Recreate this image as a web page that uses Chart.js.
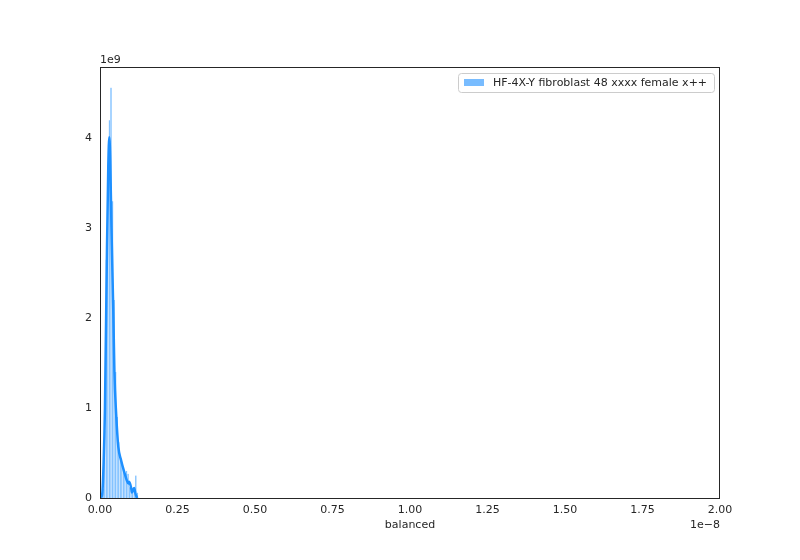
<!DOCTYPE html>
<html>
<head>
<meta charset="utf-8">
<script src="https://cdn.jsdelivr.net/npm/chart.js@4/dist/chart.umd.min.js"></script>
<style>
  html, body { margin: 0; padding: 0; background: #fff; }
  #wrap { width: 800px; height: 560px; }
</style>
</head>
<body>
<div id="wrap"><canvas id="distChart" width="800" height="560"></canvas></div>
<script>
// values in units of 1e-8 (x) and 1e9 (y)
const seriesLabel = 'HF-4X-Y fibroblast 48 xxxx female x++';
const xTitle = 'balanced';
const xTicks = [0, 0.25, 0.5, 0.75, 1.0, 1.25, 1.5, 1.75, 2.0];
const yTicks = [0, 1, 2, 3, 4];

// histogram bins (centers) and densities
const binCenters = [0.0105, 0.0155, 0.0205, 0.0255, 0.0305, 0.0355, 0.0405, 0.0455,
  0.0505, 0.0555, 0.0605, 0.0655, 0.0705, 0.0755, 0.0805, 0.0855, 0.0905, 0.0955,
  0.1005, 0.1055, 0.1105, 0.1155, 0.1205];
const binHeights = [0.1, 0.75, 2.65, 3.7, 4.2, 4.56, 3.3, 2.2,
  1.4, 0.9, 0.62, 0.45, 0.38, 0.3, 0.28, 0.3, 0.27, 0.12,
  0.08, 0.06, 0.1, 0.25, 0.06];

// kde curve
const kdeX = [0.003, 0.0074, 0.0113, 0.016, 0.0226, 0.0268, 0.030, 0.033, 0.037, 0.043,
  0.0465, 0.052, 0.059, 0.068, 0.079, 0.086, 0.092, 0.094, 0.100, 0.103, 0.110, 0.115, 0.120];
const kdeY = [0, 0.05, 0.35, 1.0, 2.8, 3.7, 4.01, 3.75, 3.0, 2.05,
  1.4, 0.94, 0.57, 0.42, 0.28, 0.2, 0.16, 0.18, 0.12, 0.06, 0.11, 0.04, 0];

const lineColor = '#1e90ff';
const barColor = 'rgba(30,144,255,0.55)';
const textColor = '#262626';
const fontFamily = '"DejaVu Sans", sans-serif';

// frame, offset labels and legend box
const decorPlugin = {
    id: 'decor',
    afterDraw(chart) {
        const ctx = chart.ctx;
        const a = chart.chartArea;
        ctx.save();
        ctx.strokeStyle = textColor;
        ctx.lineWidth = 1;
        ctx.strokeRect(a.left + 0.5, a.top + 0.5, a.right - a.left - 1, a.bottom - a.top);

        ctx.fillStyle = textColor;
        ctx.font = '11px ' + fontFamily;
        ctx.textBaseline = 'alphabetic';
        ctx.textAlign = 'left';
        ctx.fillText('1e9', a.left, a.top - 4);
        ctx.textAlign = 'right';
        ctx.fillText('1e\u22128', a.right, 528);

        // legend
        const lx = 458, ly = 73, lw = 256, lh = 19;
        ctx.beginPath();
        ctx.roundRect(lx + 0.5, ly + 0.5, lw, lh, 3);
        ctx.fillStyle = 'rgba(255,255,255,0.8)';
        ctx.fill();
        ctx.strokeStyle = '#cccccc';
        ctx.stroke();
        ctx.fillStyle = 'rgba(30,144,255,0.6)';
        ctx.fillRect(464, 79, 20, 7);
        ctx.fillStyle = textColor;
        ctx.textAlign = 'left';
        ctx.textBaseline = 'middle';
        ctx.fillText(chart.data.datasets[1].label, 493, 83);
        ctx.restore();
    }
};

new Chart(document.getElementById('distChart'), {
    data: {
        datasets: [{
            type: 'line',
            label: 'kde',
            data: kdeX.map((x, i) => ({ x: x, y: kdeY[i] })),
            borderColor: lineColor,
            borderWidth: 2.5,
            pointRadius: 0,
            cubicInterpolationMode: 'monotone',
            fill: false
        }, {
            type: 'bar',
            label: seriesLabel,
            data: binCenters.map((x, i) => ({ x: x, y: binHeights[i] })),
            backgroundColor: barColor,
            borderColor: '#ffffff',
            borderWidth: 0.4,
            barPercentage: 1.0,
            categoryPercentage: 1.0
        }]
    },
    options: {
        responsive: false,
        animation: false,
        layout: { padding: { left: 0, top: 67, right: 80, bottom: 0 } },
        plugins: {
            legend: { display: false },
            tooltip: { enabled: false }
        },
        scales: {
            x: {
                type: 'linear',
                min: 0,
                max: 2.0,
                offset: false,
                grid: { display: false },
                border: { display: false },
                afterBuildTicks: (scale) => { scale.ticks = xTicks.map(v => ({ value: v })); },
                afterFit: (scale) => { scale.height = 62; },
                ticks: {
                    color: textColor,
                    padding: -2,
                    maxRotation: 0,
                    font: { family: fontFamily, size: 11 },
                    callback: (v) => Number(v).toFixed(2)
                },
                title: {
                    display: true,
                    text: xTitle,
                    color: textColor,
                    font: { family: fontFamily, size: 11 },
                    padding: { top: 0, bottom: 28 }
                }
            },
            y: {
                min: 0,
                max: 4.79,
                grid: { display: false },
                border: { display: false },
                afterBuildTicks: (scale) => { scale.ticks = yTicks.map(v => ({ value: v })); },
                afterFit: (scale) => { scale.width = 100; },
                ticks: {
                    color: textColor,
                    padding: 0,
                    font: { family: fontFamily, size: 11 }
                }
            }
        }
    },
    plugins: [decorPlugin]
});
</script>
</body>
</html>
